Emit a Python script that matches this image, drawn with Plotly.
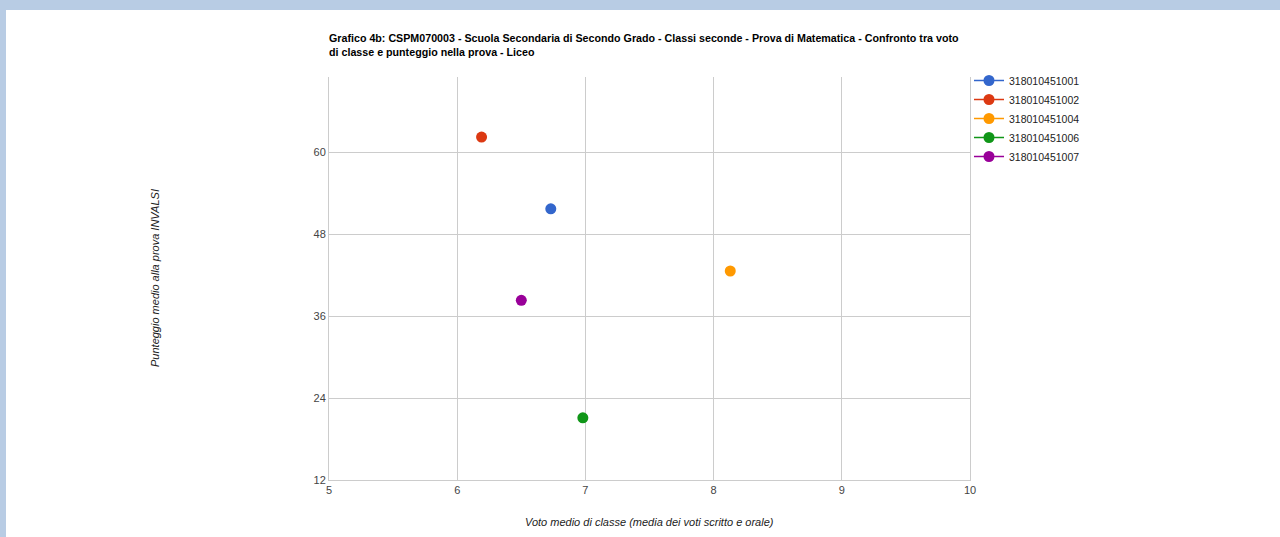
import plotly.graph_objects as go

series_names = ["318010451001", "318010451002", "318010451004", "318010451006", "318010451007"]
x_values = [6.73, 6.19, 8.13, 6.98, 6.50]
y_values = [51.7, 62.2, 42.6, 21.1, 38.3]
colors = ["#3366cc", "#dc3912", "#ff9900", "#109618", "#990099"]
x_ticks = [5, 6, 7, 8, 9, 10]
y_ticks = [12, 24, 36, 48, 60]

title_text = ("Grafico 4b: CSPM070003 - Scuola Secondaria di Secondo Grado - Classi seconde - Prova di Matematica - Confronto tra voto"
              "<br>di classe e punteggio nella prova - Liceo")

W, H = 1280, 537
L, R, T, B = 329, 310, 77, 57
pw, ph = W - L - R, H - T - B

fig = go.Figure()
for name, xv, yv, c in zip(series_names, x_values, y_values, colors):
    fig.add_trace(go.Scatter(
        x=[xv], y=[yv], name=name, mode="lines+markers",
        marker=dict(color=c, size=11),
        line=dict(color=c, width=1.5),
    ))

def px_x(p):
    return (p - L) / pw

def px_y(p):
    return (H - B - p) / ph

shapes = [
    dict(type="rect", xref="paper", yref="paper", x0=px_x(0), x1=px_x(W), y0=px_y(10), y1=px_y(0),
         fillcolor="#b8cce4", line=dict(width=0), layer="below"),
    dict(type="rect", xref="paper", yref="paper", x0=px_x(0), x1=px_x(6), y0=px_y(H), y1=px_y(0),
         fillcolor="#b8cce4", line=dict(width=0), layer="below"),
]

annotations = [
    dict(text="Voto medio di classe (media dei voti scritto e orale)", xref="paper", yref="paper",
         x=0.5, y=px_y(522), xanchor="center", yanchor="middle", showarrow=False,
         font=dict(family="Liberation Sans, Arial", size=11, color="#222222", style="italic")),
    dict(text="Punteggio medio alla prova INVALSI", xref="paper", yref="paper",
         x=px_x(155), y=px_y(278), xanchor="center", yanchor="middle", showarrow=False, textangle=-90,
         font=dict(family="Liberation Sans, Arial", size=11, color="#222222", style="italic")),
]

fig.update_layout(
    width=W, height=H,
    margin=dict(l=L, r=R, t=T, b=B, autoexpand=False),
    paper_bgcolor="white", plot_bgcolor="white",
    font=dict(family="Liberation Sans, Arial", size=11, color="#444444"),
    title=dict(text=title_text, x=L / W, xanchor="left", xref="container",
               y=1 - 42 / H, yanchor="top", yref="container",
               font=dict(family="Liberation Sans, Arial", size=10.7, color="#000000", weight="bold")),
    xaxis=dict(range=[5, 10], tickvals=x_ticks, showgrid=True, gridcolor="#cccccc", gridwidth=1,
               zeroline=False, showline=True, linecolor="#cccccc", mirror=False, ticks="",
               tickfont=dict(size=11, color="#444444")),
    yaxis=dict(range=[12, 71], tickvals=y_ticks, showgrid=True, gridcolor="#cccccc", gridwidth=1,
               zeroline=False, showline=True, linecolor="#cccccc", mirror=True, ticks="",
               tickfont=dict(size=11, color="#444444")),
    legend=dict(x=px_x(969), y=px_y(66), xanchor="left", yanchor="top",
                font=dict(size=10.5, color="#222222"), itemwidth=30, tracegroupgap=0,
                bgcolor="rgba(0,0,0,0)"),
    shapes=shapes,
    annotations=annotations,
    showlegend=True,
)

fig.write_html("out.html", config={"displayModeBar": False},
               post_script="document.body.style.margin='0';")
